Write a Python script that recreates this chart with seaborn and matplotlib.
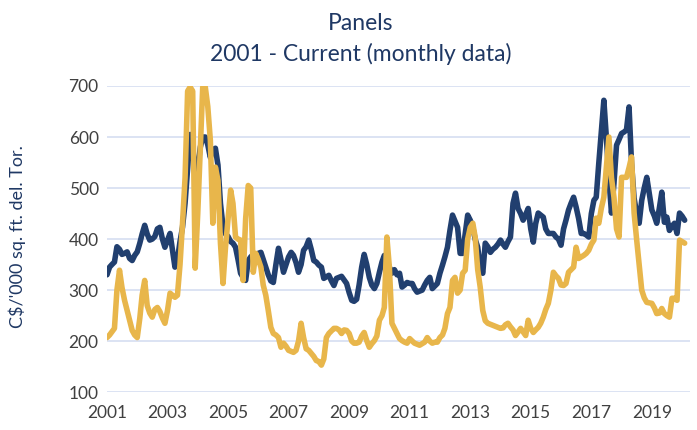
import pandas as pd
import matplotlib.pyplot as plt
import seaborn as sns

# monthly prices, Jan 2001 onwards
navy_vals = [
    330, 345, 350, 355, 385, 380, 370, 372, 375, 362, 358, 368,  # 2001
    375, 392, 410, 427, 410, 398, 400, 405, 420, 423, 400, 384,  # 2002
    398, 411, 380, 345, 360, 395, 423, 470, 540, 605, 580, 520,  # 2003
    540, 580, 600, 600, 585, 560, 575, 578, 545, 470, 425, 410,  # 2004
    405, 395, 392, 384, 360, 333, 325, 319, 358, 365, 370, 368,  # 2005
    372, 374, 360, 345, 330, 318, 315, 350, 382, 360, 335, 350,  # 2006
    365, 374, 368, 354, 335, 350, 378, 385, 398, 380, 358, 355,  # 2007
    349, 345, 323, 326, 329, 318, 309, 323, 325, 327, 320, 313,  # 2008
    295, 280, 278, 282, 310, 345, 370, 350, 325, 310, 303, 313,  # 2009
    335, 355, 368, 358, 345, 333, 340, 330, 333, 306, 310, 315,  # 2010
    313, 313, 303, 296, 298, 300, 310, 319, 325, 303, 308, 313,  # 2011
    333, 349, 365, 384, 417, 447, 435, 423, 372, 372, 410, 447,  # 2012
    437, 423, 400, 384, 345, 333, 392, 385, 374, 380, 384, 390,  # 2013
    398, 390, 384, 395, 404, 470, 490, 460, 450, 437, 448, 460,  # 2014
    420, 394, 430, 451, 447, 443, 420, 411, 411, 411, 404, 400,  # 2015
    388, 420, 437, 457, 470, 482, 463, 440, 411, 411, 408, 404,  # 2016
    450, 476, 482, 549, 610, 672, 600, 520, 451, 509, 584, 595,  # 2017
    607, 610, 614, 659, 549, 480, 451, 431, 476, 500, 521, 490,  # 2018
    457, 445, 431, 460, 492, 433, 443, 417, 425, 431, 411, 451,  # 2019
    445, 437,                                                    # 2020
]
gold_vals = [
    207, 212, 218, 225, 300, 339, 305, 280, 260, 240, 221, 212,  # 2001
    207, 245, 290, 319, 270, 255, 247, 262, 266, 258, 245, 235,  # 2002
    260, 294, 290, 286, 290, 350, 430, 520, 690, 698, 690, 343,  # 2003
    450, 581, 698, 698, 660, 594, 431, 541, 515, 392, 313, 384,  # 2004
    440, 496, 470, 404, 400, 398, 319, 440, 505, 500, 335, 372,  # 2005
    360, 345, 310, 290, 260, 227, 215, 212, 207, 188, 196, 190,  # 2006
    182, 180, 178, 182, 200, 235, 207, 185, 182, 176, 170, 162,  # 2007
    160, 153, 165, 207, 215, 220, 225, 225, 222, 215, 222, 221,  # 2008
    215, 200, 196, 196, 198, 210, 217, 201, 188, 195, 201, 210,  # 2009
    241, 250, 266, 404, 345, 235, 225, 215, 205, 201, 198, 196,  # 2010
    205, 200, 196, 194, 192, 195, 198, 207, 200, 196, 198, 198,  # 2011
    207, 212, 225, 254, 266, 319, 325, 294, 300, 333, 339, 400,  # 2012
    423, 431, 404, 340, 306, 260, 240, 235, 233, 231, 229, 227,  # 2013
    225, 226, 232, 235, 228, 222, 211, 218, 225, 218, 211, 241,  # 2014
    225, 217, 222, 227, 235, 247, 262, 274, 300, 335, 328, 323,  # 2015
    310, 309, 313, 335, 340, 345, 384, 362, 365, 368, 372, 378,  # 2016
    390, 398, 441, 431, 460, 482, 540, 600, 520, 482, 420, 404,  # 2017
    521, 521, 521, 540, 561, 451, 400, 350, 300, 285, 276, 275,  # 2018
    274, 265, 254, 255, 264, 254, 250, 247, 284, 284, 280, 398,  # 2019
    395, 392,                                                    # 2020
]
tick_years = list(range(2001, 2021, 2))
y_ticks = [100, 200, 300, 400, 500, 600, 700]

months = pd.date_range("2001-01-01", periods=len(navy_vals), freq="MS")
df = pd.DataFrame({"month": months, "navy": navy_vals, "gold": gold_vals})
long_df = df.melt(id_vars="month", var_name="series", value_name="price")

sns.set_style("white")
plt.rcParams["font.family"] = ["Lato", "DejaVu Sans"]

navy = "#213F6F"
gold = "#E8B64B"
title_col = "#1F3864"

fig = plt.figure(figsize=(6.97, 4.30), dpi=100)
ax = fig.add_axes([0.1535, 0.088, 0.837, 0.712])

sns.lineplot(data=long_df, x="month", y="price", hue="series",
             palette={"navy": navy, "gold": gold}, linewidth=4.0,
             legend=False, ax=ax)

ax.set_ylim(100, 700)
ax.set_yticks(y_ticks)
ax.set_xlim(pd.Timestamp("2001-01-01"), pd.Timestamp("2020-04-10"))
ax.set_xticks([pd.Timestamp(f"{y}-01-01") for y in tick_years])
ax.set_xticklabels([str(y) for y in tick_years])
ax.set_xlabel("")
ax.set_ylabel("")

ax.yaxis.grid(True, color="#D9E1F2", linewidth=1.3)
ax.xaxis.grid(False)
ax.set_axisbelow(True)
for s in ax.spines.values():
    s.set_visible(False)
ax.tick_params(axis="both", length=0, labelsize=12.5, labelcolor="#404040")
ax.tick_params(axis="y", pad=6)
ax.tick_params(axis="x", pad=9)

fig.text(0.517, 0.945, "Panels", ha="center", va="center", fontsize=16.5, color=title_col)
fig.text(0.517, 0.875, "2001 - Current (monthly data)", ha="center", va="center",
         fontsize=16.5, color=title_col)
fig.text(0.025, 0.45, "C$/'000 sq. ft. del. Tor.", rotation=90, ha="center", va="center",
         fontsize=13, color=title_col)

fig.savefig("out.png", dpi=100)
